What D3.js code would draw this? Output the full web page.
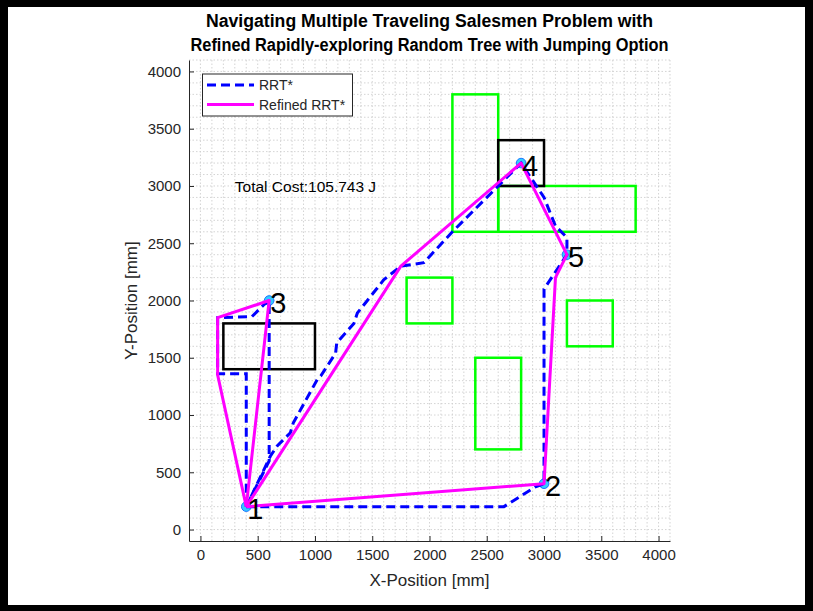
<!DOCTYPE html>
<html><head><meta charset="utf-8">
<script src="https://cdn.jsdelivr.net/npm/d3@7"></script>
<style>
html,body{margin:0;padding:0;background:#fff;}
text{font-family:"Liberation Sans",Arial,Helvetica,sans-serif;}
</style></head>
<body><svg id="chart" width="813" height="611"></svg>
<script>
// ---- data ----
const titleLines = ["Navigating Multiple Traveling Salesmen Problem with",
                    "Refined Rapidly-exploring Random Tree with Jumping Option"];
const xTicks = [0,500,1000,1500,2000,2500,3000,3500,4000];
const yTicks = [0,500,1000,1500,2000,2500,3000,3500,4000];
const cityIds = ["1","2","3","4","5"];
const cityX = [400, 3000, 600, 2800, 3200];
const cityY = [200, 400, 2000, 3200, 2400];
// obstacles [x0, y0, x1, y1]
const blackObstacles = [[200,1400,1000,1800],[2600,3000,3000,3400]];
const greenObstacles = [[2200,2600,2600,3800],[2600,2600,3800,3000],[1800,1800,2200,2200],
                        [2400,700,2800,1500],[3200,1600,3600,2000]];
// RRT* (dashed) routes
const rrtRoute1 = [[400,200],[2650,200],[2920,370],[3000,400],[3000,2100],[3100,2250],[3200,2400],
  [3200,2550],[3100,2650],[3000,2900],[2800,3200],[2600,3000],[2200,2600],[1950,2330],[1750,2300],
  [1600,2180],[1370,1890],[1340,1800],[1190,1630],[1180,1540],[1050,1340],[1020,1310],[810,930],
  [785,845],[670,730],[610,640],[400,200]];
const rrtRoute2 = [[400,200],[400,1360],[150,1360],[150,1850],[450,1860],[550,1960],[600,2000],
  [600,600],[400,200]];
// Refined RRT* routes
const refRoute1 = [[400,200],[3000,400],[3100,2200],[3200,2400],[2800,3200],[1750,2300],[400,200]];
const refRoute2 = [[400,200],[600,2000],[150,1850],[150,1350],[400,200]];
const costText = "Total Cost:105.743 J";
const costPos = [300, 3000];
const legendLabels = ["RRT*", "Refined RRT*"];

// ---- drawing ----
const svg = d3.select("#chart");
const W = 813, H = 611;
const axColor = "#262626";
const x = d3.scaleLinear().domain([-100, 4100]).range([189, 670]);
const y = d3.scaleLinear().domain([-100, 4100]).range([541, 60]);

svg.append("rect").attr("width", W).attr("height", H).attr("fill", "#fff");

// grid (every 100 mm, dotted)
const gridVals = d3.range(0, 4101, 100);
const grid = svg.append("g");
grid.selectAll("line.v").data(gridVals).join("line")
  .attr("x1", d => x(d)).attr("x2", d => x(d)).attr("y1", y(-100)).attr("y2", y(4100))
  .attr("stroke", "#cfcfcf").attr("stroke-width", 0.9).attr("stroke-dasharray", "1.5,2");
grid.selectAll("line.h").data(gridVals).join("line")
  .attr("y1", d => y(d)).attr("y2", d => y(d)).attr("x1", x(-100)).attr("x2", x(4100))
  .attr("stroke", "#cfcfcf").attr("stroke-width", 0.9).attr("stroke-dasharray", "1.5,2");

// axes
const xAxis = d3.axisBottom(x).tickValues(xTicks).tickFormat(d3.format("d")).tickSizeInner(-5).tickSizeOuter(0).tickPadding(8);
const yAxis = d3.axisLeft(y).tickValues(yTicks).tickFormat(d3.format("d")).tickSizeInner(-5).tickSizeOuter(0).tickPadding(8);
const gx = svg.append("g").attr("transform", `translate(0,${y(-100)})`).call(xAxis);
const gy = svg.append("g").attr("transform", `translate(${x(-100)},0)`).call(yAxis);
[gx, gy].forEach(g => {
  g.select(".domain").attr("stroke", axColor).attr("stroke-width", 1);
  g.selectAll(".tick line").attr("stroke", axColor).attr("stroke-width", 1);
  g.selectAll(".tick text").attr("fill", axColor).attr("font-size", 15)
    .attr("font-family", "'Liberation Sans',Arial,sans-serif");
});

// obstacles
const rectSel = (data, color, w) => svg.append("g").selectAll("rect").data(data).join("rect")
  .attr("x", d => x(d[0])).attr("y", d => y(d[3]))
  .attr("width", d => x(d[2]) - x(d[0])).attr("height", d => y(d[1]) - y(d[3]))
  .attr("fill", "none").attr("stroke", color).attr("stroke-width", w);
rectSel(greenObstacles, "#00ff00", 2.5);
rectSel(blackObstacles, "#000000", 2.5);

// city markers
const cities = cityIds.map((id, i) => ({id, x: cityX[i], y: cityY[i]}));
svg.append("g").selectAll("circle").data(cities).join("circle")
  .attr("cx", d => x(d.x)).attr("cy", d => y(d.y)).attr("r", 4.8)
  .attr("fill", "#33ccff").attr("stroke", "#1a75ff").attr("stroke-width", 1);

// routes
const line = d3.line().x(d => x(d[0])).y(d => y(d[1]));
svg.append("g").selectAll("path").data([rrtRoute1, rrtRoute2]).join("path")
  .attr("d", line).attr("fill", "none").attr("stroke", "#0000ff").attr("stroke-width", 3)
  .attr("stroke-dasharray", "9,5");
svg.append("g").selectAll("path").data([refRoute1, refRoute2]).join("path")
  .attr("d", line).attr("fill", "none").attr("stroke", "#ff00ff").attr("stroke-width", 3)
  .attr("stroke-linejoin", "round");

// city labels
svg.append("g").selectAll("text").data(cities).join("text")
  .attr("x", d => x(d.x) + 1).attr("y", d => y(d.y) + 2).attr("dy", "0.36em")
  .attr("font-size", 29).attr("fill", "#000").text(d => d.id);

// cost text
svg.append("text").attr("x", x(costPos[0])).attr("y", y(costPos[1])).attr("dy", "0.36em")
  .attr("font-size", 15.5).attr("fill", "#000").text(costText);

// legend
const lg = svg.append("g");
lg.append("rect").attr("x", 202.5).attr("y", 74).attr("width", 150).attr("height", 42)
  .attr("fill", "#fff").attr("stroke", axColor).attr("stroke-width", 1);
const legStyles = [{c: "#0000ff", dash: "9,5"}, {c: "#ff00ff", dash: null}];
legendLabels.forEach((lab, i) => {
  const cy = 85 + i * 19.5;
  lg.append("line").attr("x1", 207).attr("x2", 254).attr("y1", cy).attr("y2", cy)
    .attr("stroke", legStyles[i].c).attr("stroke-width", 3)
    .attr("stroke-dasharray", legStyles[i].dash);
  lg.append("text").attr("x", 259).attr("y", cy).attr("dy", "0.36em")
    .attr("font-size", 14).attr("fill", axColor).text(lab);
});

// axis labels
svg.append("text").attr("x", (x(-100) + x(4100)) / 2).attr("y", 586).attr("text-anchor", "middle")
  .attr("font-size", 17).attr("fill", axColor).text("X-Position [mm]");
svg.append("text").attr("transform", `translate(137,${(y(-100) + y(4100)) / 2}) rotate(-90)`)
  .attr("text-anchor", "middle").attr("font-size", 17).attr("fill", axColor).text("Y-Position [mm]");

// title
titleLines.forEach((t, i) => {
  svg.append("text").attr("x", 429.5).attr("y", 27 + i * 24).attr("text-anchor", "middle")
    .attr("font-size", 17.5).attr("font-weight", "bold").attr("fill", "#000")
    .attr("textLength", i === 0 ? 447 : 478).attr("lengthAdjust", "spacingAndGlyphs").text(t);
});

// black frame
const frame = svg.append("g").attr("fill", "#000");
frame.append("rect").attr("x", 0).attr("y", 0).attr("width", W).attr("height", 7);
frame.append("rect").attr("x", 0).attr("y", 0).attr("width", 8).attr("height", H);
frame.append("rect").attr("x", W - 8).attr("y", 0).attr("width", 8).attr("height", H);
frame.append("rect").attr("x", 0).attr("y", H - 6).attr("width", W).attr("height", 6);
</script></body></html>
